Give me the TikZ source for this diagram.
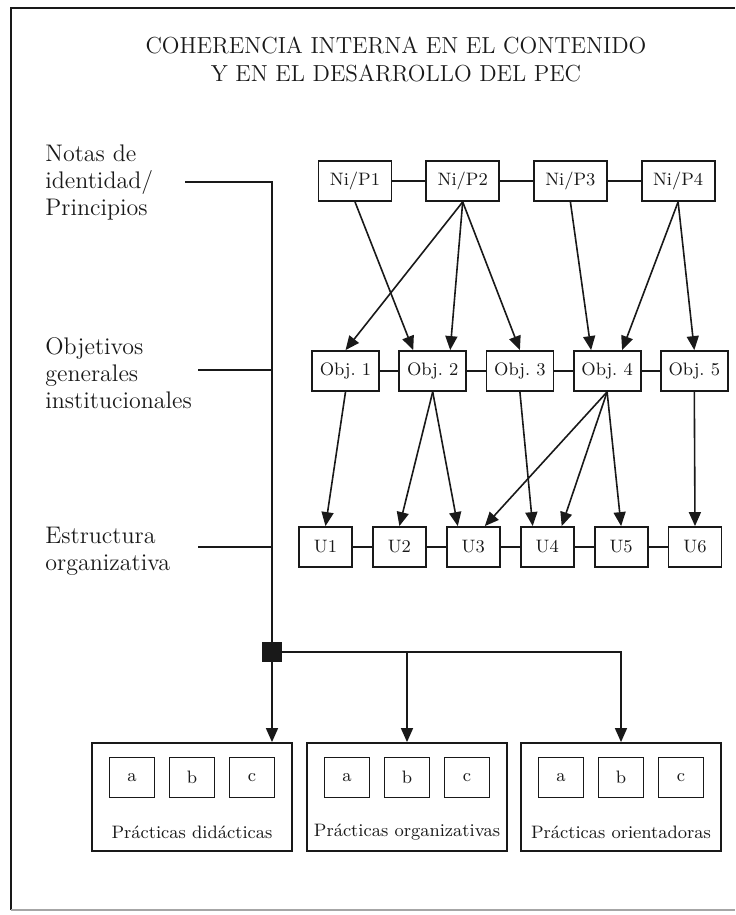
\documentclass[tikz,border=0pt]{standalone}
\usepackage{fontspec}
\usetikzlibrary{arrows.meta, positioning}
\colorlet{ink}{black!90}
\tikzset{
  box/.style={draw=ink, line width=0.9pt, text=ink, inner sep=0pt,
              minimum width=#1, minimum height=20pt, font=\fontsize{9}{10}\selectfont},
  box/.default=30pt,
  link/.style={draw=ink, line width=0.8pt},
  arr/.style={link, -{Triangle[length=7pt, width=6pt]}},
  side/.style={anchor=west, align=left, text=ink, inner sep=0pt,
               font=\fontsize{12}{13.5}\selectfont},
  caption/.style={text=ink, inner sep=0pt, font=\fontsize{9}{10}\selectfont},
}

\begin{document}
\begin{tikzpicture}[x=0.5pt, y=-0.5pt]
  \useasboundingbox (0,0) rectangle (735,915);
  % frame
  \draw[ink, line width=0.9pt] (11,910) -- (11,8) -- (735,8);
  \draw[black!35, line width=0.6pt] (11,910) -- (735,910);

  \node[align=center, text=ink, font=\fontsize{11.6}{14}\selectfont] (title) at (396,59)
    {COHERENCIA INTERNA EN EL CONTENIDO\\Y EN EL DESARROLLO DEL PEC};

  % left labels
  \node[side] (notas) at (45,182) {Notas de\\identidad/\\Principios};
  \node[side] (objet) at (45,373) {Objetivos\\generales\\institucionales};
  \node[side] (estru) at (45,551) {Estructura\\organizativa};

  % rows
  \foreach \i in {1,...,4}
    \node[box=36.5pt] (ni\i) at ({355+107.7*(\i-1)},181) {Ni/P\i};
  \foreach \i in {1,...,5}
    \node[box=33.5pt] (obj\i) at ({345.5+87.2*(\i-1)},371) {Obj.~\i};
  \foreach \i in {1,...,6}
    \node[box=26.5pt] (u\i) at ({325.5+73.9*(\i-1)},547) {U\i};

  \foreach \i/\j in {1/2,2/3,3/4} \draw[link] (ni\i) -- (ni\j);
  \foreach \i/\j in {1/2,2/3,3/4,4/5} \draw[link] (obj\i) -- (obj\j);
  \foreach \i/\j in {1/2,2/3,3/4,4/5,5/6} \draw[link] (u\i) -- (u\j);

  % principles to objectives
  \draw[arr] (ni1.south) -- ([xshift=-9.75pt]obj2.north);
  \draw[arr] (ni2.south) -- (obj1.north);
  \draw[arr] (ni2.south) -- ([xshift=8.75pt]obj2.north);
  \draw[arr] (ni2.south) -- (obj3.north);
  \draw[arr] (ni3.south) -- ([xshift=-8pt]obj4.north);
  \draw[arr] (ni4.south) -- ([xshift=7.5pt]obj4.north);
  \draw[arr] (ni4.south) -- (obj5.north);

  % objectives to structure
  \draw[arr] (obj1.south) -- (u1.north);
  \draw[arr] (obj2.south) -- (u2.north);
  \draw[arr] (obj2.south) -- ([xshift=-7.75pt]u3.north);
  \draw[arr] (obj3.south) -- ([xshift=-7.25pt]u4.north);
  \draw[arr] (obj4.south) -- ([xshift=5.75pt]u3.north);
  \draw[arr] (obj4.south) -- ([xshift=7.25pt]u4.north);
  \draw[arr] (obj4.south) -- (u5.north);
  \draw[arr] (obj5.south) -- (u6.north);

  % practices
  \foreach \n/\x/\txt in {pd/192/didácticas, pg/407/organizativas, po/621/orientadoras} {
    \node[box=100pt, minimum height=54pt] (\n) at (\x,797) {};
    \node[caption] (\n l) at (\x,832) {Prácticas \txt};
    \foreach \k/\dx in {a/-60,b/0,c/60}
      \node[box=22.5pt] (\n\k) at (\x+\dx,777.5) {\k};
  }

  % bus
  \coordinate (nl) at (185,182);
  \coordinate (ol) at (198,370);
  \coordinate (el) at (198,547);
  \node[fill=ink, minimum size=10pt, inner sep=0pt] (hub) at (272,652) {};
  \draw[link] (nl) -- (nl -| hub) -- (hub);
  \draw[link] (ol) -- (ol -| hub);
  \draw[link] (el) -- (el -| hub);
  \draw[arr] (hub.south) -- (hub.south |- pd.north);
  \draw[arr] (hub.east) -| (po.north);
  \draw[arr] (hub -| pg.north) -- (pg.north);
\end{tikzpicture}
\end{document}
